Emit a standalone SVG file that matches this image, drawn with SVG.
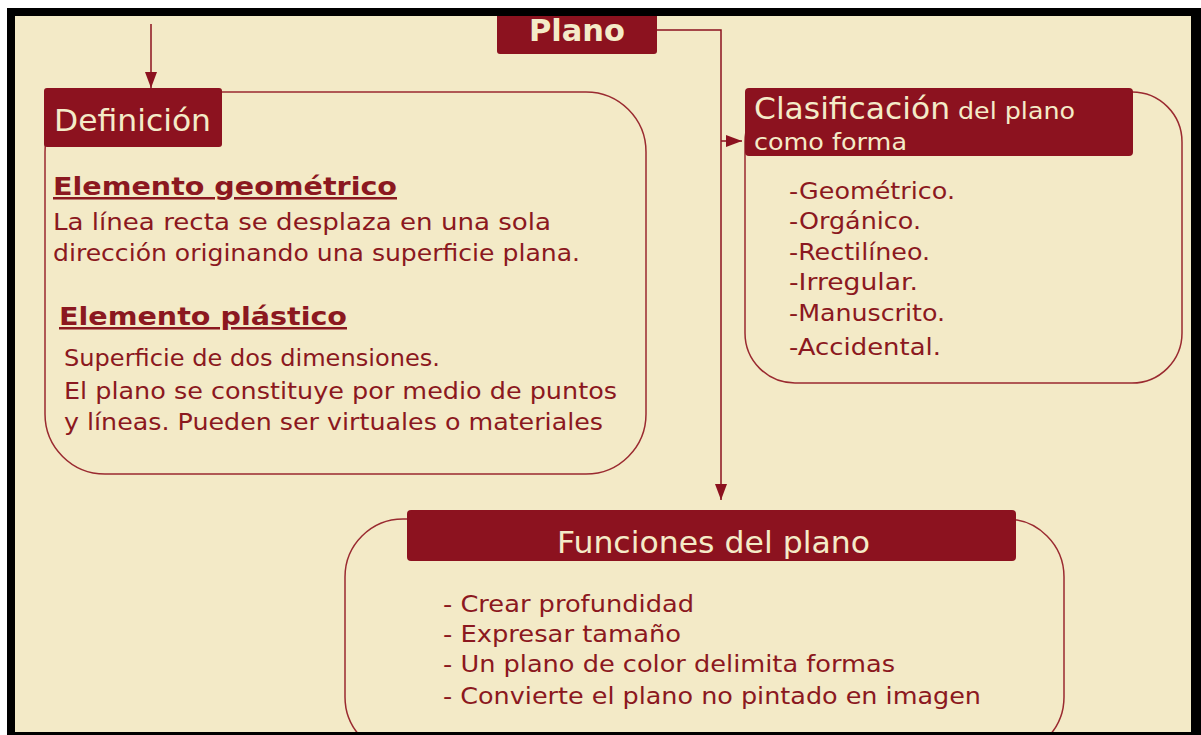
<svg xmlns="http://www.w3.org/2000/svg" width="1201" height="735" viewBox="0 0 1201 735">
<defs>
<style>
.hdr{fill:#8C121F;}
.box{fill:none;stroke:#9A2A30;stroke-width:1.5;}
.ht{fill:#F4EBC8;font-family:"DejaVu Sans",Verdana,sans-serif;}
.bt{fill:#8B1820;font-family:"DejaVu Sans",Verdana,sans-serif;font-size:22.5px;}
.li{fill:#8B1820;font-family:"DejaVu Sans",Verdana,sans-serif;font-size:23px;}
.bold{font-weight:bold;font-size:25px;text-decoration:underline;}
.con{fill:none;stroke:#8C121F;stroke-width:1.5;}
</style>
<marker id="arr" viewBox="0 0 16 12" refX="16" refY="6" markerWidth="16" markerHeight="12" markerUnits="userSpaceOnUse" orient="auto">
<path d="M0,0 L16,6 L0,12 Z" fill="#8C121F"/>
</marker>
</defs>
<rect x="0" y="0" width="1201" height="735" fill="#ffffff"/>
<rect x="15" y="16" width="1176" height="716" fill="#F3EAC7"/>

<g id="connectors">
<path class="con" d="M151,24 L151,88" marker-end="url(#arr)"/>
<path class="con" d="M657,30 L721,30 L721,500" marker-end="url(#arr)"/>
<path class="con" d="M721,141 L742,141" marker-end="url(#arr)"/>
</g>

<g id="plano">
<rect class="hdr" x="497" y="12" width="160" height="42" rx="3"/>
<text class="ht" x="577" y="41" font-size="31" font-weight="bold" text-anchor="middle" textLength="96" lengthAdjust="spacingAndGlyphs">Plano</text>
</g>

<g id="definicion">
<rect class="box" x="45" y="92" width="601" height="382" rx="60"/>
<rect class="hdr" x="44" y="88" width="178" height="59" rx="3"/>
<text class="ht" x="54" y="131" font-size="30" textLength="157" lengthAdjust="spacingAndGlyphs">Definición</text>
<text class="bt bold" x="53" y="195" textLength="344" lengthAdjust="spacingAndGlyphs">Elemento geométrico</text>
<text class="bt" x="53" y="230" textLength="498" lengthAdjust="spacingAndGlyphs">La línea recta se desplaza en una sola</text>
<text class="bt" x="53" y="261" textLength="527" lengthAdjust="spacingAndGlyphs">dirección originando una superficie plana.</text>
<text class="bt bold" x="59" y="325" textLength="288" lengthAdjust="spacingAndGlyphs">Elemento plástico</text>
<text class="bt" x="64" y="366" textLength="376" lengthAdjust="spacingAndGlyphs">Superficie de dos dimensiones.</text>
<text class="bt" x="64" y="399" textLength="553" lengthAdjust="spacingAndGlyphs">El plano se constituye por medio de puntos</text>
<text class="bt" x="64" y="430" textLength="539" lengthAdjust="spacingAndGlyphs">y líneas. Pueden ser virtuales o materiales</text>
</g>

<g id="clasificacion">
<rect class="box" x="745" y="92" width="437" height="291" rx="50"/>
<rect class="hdr" x="745" y="88" width="388" height="68" rx="4"/>
<text class="ht" x="754" y="119" font-size="30" textLength="196" lengthAdjust="spacingAndGlyphs">Clasificación</text>
<text class="ht" x="958" y="119" font-size="23" textLength="117" lengthAdjust="spacingAndGlyphs">del plano</text>
<text class="ht" x="754" y="150" font-size="23" textLength="153" lengthAdjust="spacingAndGlyphs">como forma</text>
<text class="li" x="789" y="199" textLength="166" lengthAdjust="spacingAndGlyphs">-Geométrico.</text>
<text class="li" x="789" y="229" textLength="132" lengthAdjust="spacingAndGlyphs">-Orgánico.</text>
<text class="li" x="789" y="260" textLength="141" lengthAdjust="spacingAndGlyphs">-Rectilíneo.</text>
<text class="li" x="789" y="290" textLength="129" lengthAdjust="spacingAndGlyphs">-Irregular.</text>
<text class="li" x="789" y="321" textLength="156" lengthAdjust="spacingAndGlyphs">-Manuscrito.</text>
<text class="li" x="789" y="355" font-family="Liberation Sans,Arial,sans-serif" font-size="25" textLength="152" lengthAdjust="spacingAndGlyphs">-Accidental.</text>
</g>

<g id="funciones">
<rect class="box" x="345" y="519" width="719" height="236" rx="58"/>
<rect class="hdr" x="407" y="510" width="609" height="51" rx="4"/>
<text class="ht" x="557" y="553" font-size="31" textLength="313" lengthAdjust="spacingAndGlyphs">Funciones del plano</text>
<text class="li" x="443" y="612" textLength="251" lengthAdjust="spacingAndGlyphs">- Crear profundidad</text>
<text class="li" x="443" y="642" textLength="238" lengthAdjust="spacingAndGlyphs">- Expresar tamaño</text>
<text class="li" x="443" y="672" textLength="452" lengthAdjust="spacingAndGlyphs">- Un plano de color delimita formas</text>
<text class="li" x="443" y="704" textLength="538" lengthAdjust="spacingAndGlyphs">- Convierte el plano no pintado en imagen</text>
</g>

<path d="M7,8 H1201 V735 H7 Z M15,16 V732 H1191 V16 Z" fill="#000000" fill-rule="evenodd"/>
</svg>
